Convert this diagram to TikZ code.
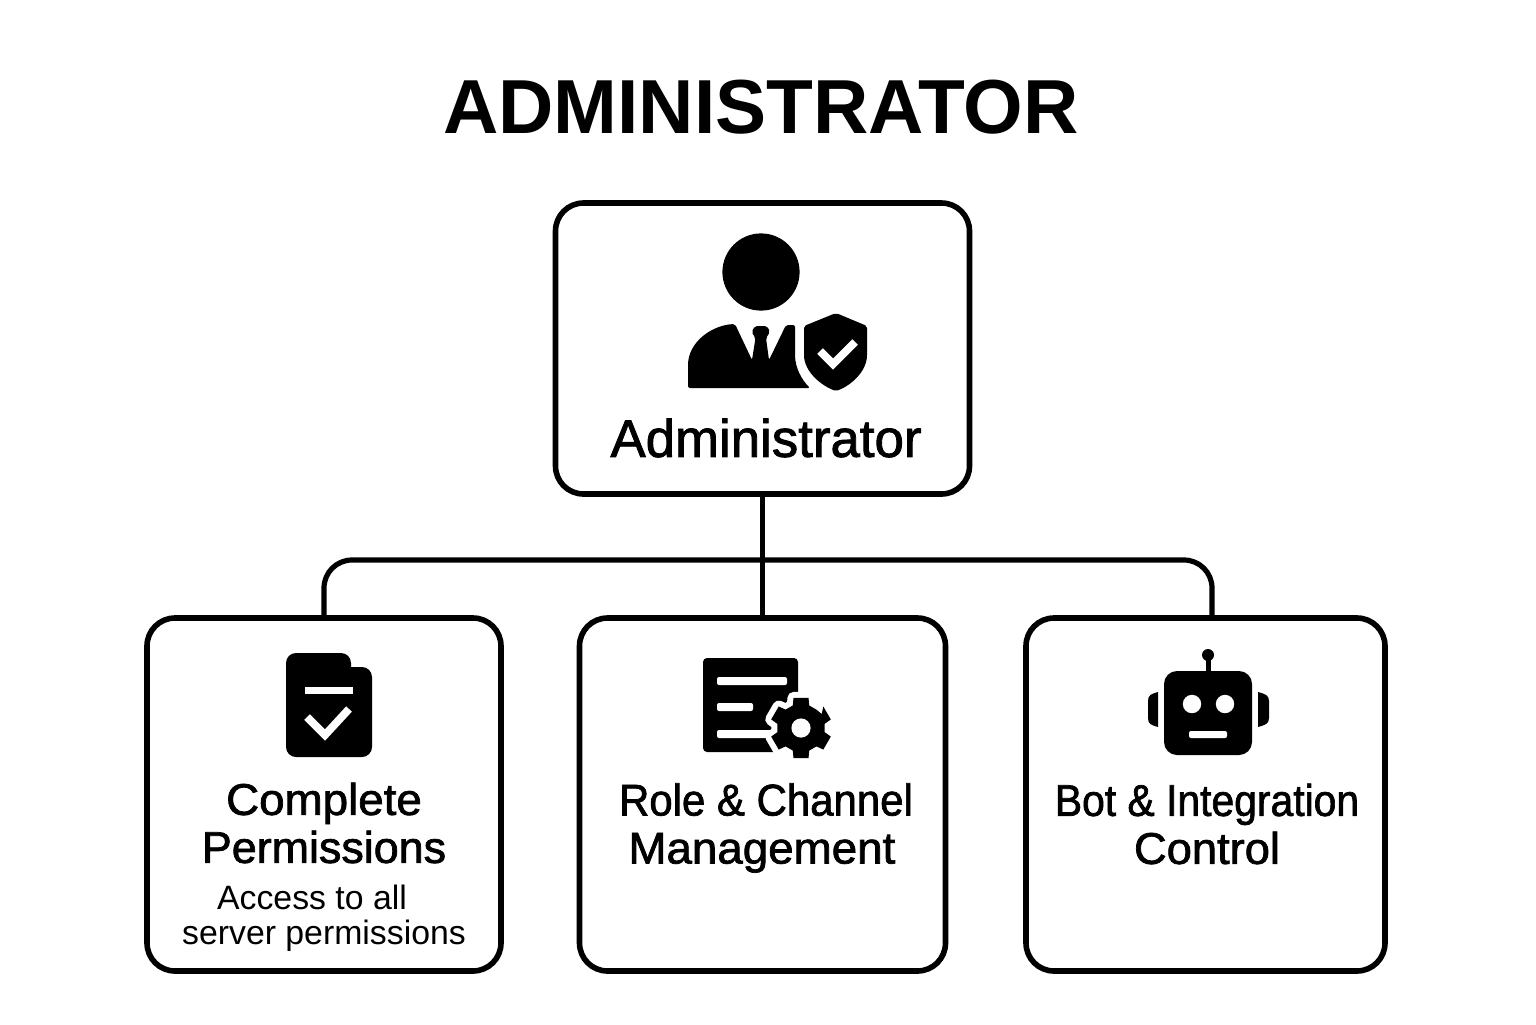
\documentclass[tikz,border=0pt]{standalone}
\usepackage{graphicx}
\usepackage{fontspec}
\setmainfont{Liberation Sans}
\newfontfamily\medfont[FakeBold=1.6]{Liberation Sans}
\usetikzlibrary{calc}

\tikzset{
  cardbox/.style={draw=black,line width=2.8pt,rounded corners=14pt,fill=white,inner sep=0pt},
  wire/.style={draw=black,line width=2.6pt},
  heading/.style={font=\fontsize{38.3}{40}\selectfont\bfseries},
  cardtext/.style={font=\medfont\fontsize{22.2}{24}\selectfont,align=center,inner sep=0pt},
  subtext/.style={font=\fontsize{16.9}{18}\selectfont,inner sep=0pt},
  mark white/.style={draw=white,line width=3.9pt,line cap=butt,line join=miter}
}
\newcommand{\squeeze}[2]{\scalebox{#1}[1]{#2}}

\begin{document}
\begin{tikzpicture}[x=.5pt,y=-.5pt]
\path[use as bounding box,fill=white] (0,0) rectangle (1536,1024);

\node[heading] (title) at (761,107) {ADMINISTRATOR};

% boxes
\node[cardbox,minimum width=207pt,minimum height=145.5pt] (admin) at (762.5,348.5) {};
\node[cardbox,minimum width=183pt,minimum height=176.5pt] (role) at (762.5,794.5) {};
\node[cardbox,minimum width=177pt,minimum height=176.5pt] (perm) at (324,794.5) {};
\node[cardbox,minimum width=179.5pt,minimum height=176.5pt] (bot) at (1205.5,794.5) {};

% connectors
\coordinate (bus) at (762.5,560);
\coordinate (botin) at (1212,618);
\draw[wire] (admin.south) -- (role.north);
\draw[wire,rounded corners=14pt] (perm.north) |- (bus);
\draw[wire,rounded corners=14pt] (botin) |- (bus);

% person with shield
\fill (761,272) circle (19.3pt);
\fill[rounded corners=1pt] (688,388) -- (688,367) .. controls (688,342) and (712,325) .. (735,324)
  -- (752,360) -- (755.5,338) -- (751.5,332) -- (755,326) -- (767,326) -- (770,332) -- (766,338)
  -- (769,360) -- (786,325) -- (795,325) -- (795,353) .. controls (795,368) and (802,380) .. (810,388) -- cycle;
\fill[rounded corners=1pt] (836,313) -- (867,326) -- (867,353) .. controls (867,372) and (850,386) .. (836,391)
  .. controls (822,386) and (804,372) .. (804,353) -- (804,326) -- cycle;
\draw[mark white] (820,351) -- (833,364) -- (855,342);

% document with check
\fill[rounded corners=5pt] (286,653) rectangle (351,700);
\fill[rounded corners=5pt] (286,667) rectangle (372,757);
\fill[white] (305,687) rectangle (353,694);
\draw[mark white] (307,717) -- (325,735) -- (349,709);

% list with gear
\fill[rounded corners=2pt] (703,658) rectangle (798,752);
\fill[white,rounded corners=1pt] (717,677) rectangle (787,685);
\fill[white,rounded corners=1pt] (717,703) rectangle (753,711);
\fill[white,rounded corners=1pt] (717,730) rectangle (775,738);
\begin{scope}[shift={(801,728)}]
\path[fill=black,preaction={draw=white,line width=6pt,line join=round}] (-34:25)
  \foreach \a in {-30,30,...,270} {
    -- (\a-14:31) -- (\a+14:31) -- (\a+20:24) -- (\a+40:24)
  } -- cycle;
\fill[white] (0,0) circle (4.8pt);
\end{scope}

% robot
\fill[rounded corners=6.5pt] (1164,671) rectangle (1252,755);
\fill (1208,655) circle (3pt);
\fill (1205.5,655) rectangle (1210.5,672);
\fill[white] (1192,704) circle (4.6pt);
\fill[white] (1225,704) circle (4.6pt);
\fill[white,rounded corners=1pt] (1189,731) rectangle (1227,738);
\fill (1158,692) -- (1158,727) .. controls (1151,725) and (1148,724) .. (1148,718) -- (1148,701) .. controls (1148,695) and (1151,694) .. (1158,692) -- cycle;
\fill (1258,692) -- (1258,727) .. controls (1265,725) and (1269,724) .. (1269,718) -- (1269,701) .. controls (1269,695) and (1265,694) .. (1258,692) -- cycle;

% labels
\node[cardtext,font=\medfont\fontsize{26.4}{28}\selectfont] (adminlbl) at (766,438) {Administrator};
\node[cardtext] (permlbl) at (324,823) {\squeeze{1.03}{Complete}\\\squeeze{1.01}{Permissions}};
\node[cardtext] (rolelbl) at (766,828) {\squeeze{.945}{Role \& Channel}\\\squeeze{1.03}{\hspace{-4pt}Management}};
\node[cardtext] (botlbl) at (1207,824) {\squeeze{.92}{Bot \& Integration}\\\squeeze{1.02}{Control}};
\node[subtext] (permsuba) at (312,897) {Access to all};
\node[subtext] (permsubb) at (324,936) {server permissions};
\end{tikzpicture}
\end{document}
